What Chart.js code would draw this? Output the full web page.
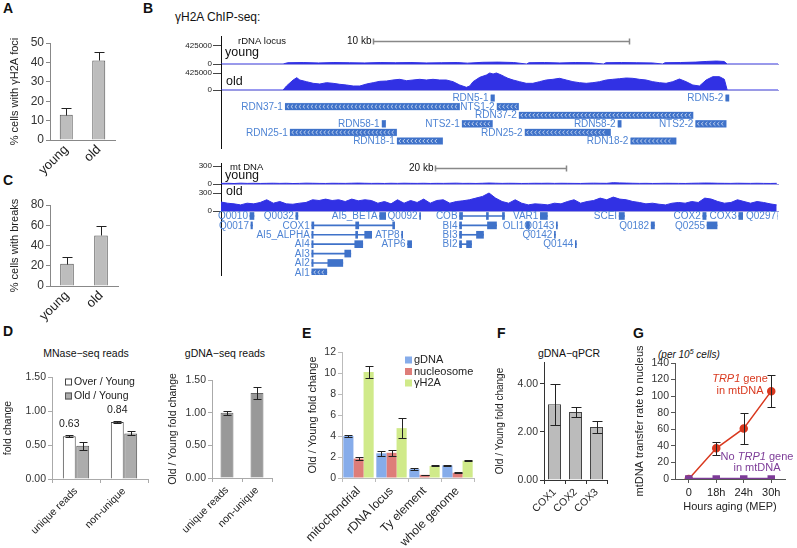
<!DOCTYPE html>
<html>
<head>
<meta charset="utf-8">
<script src="https://cdn.jsdelivr.net/npm/chart.js@4/dist/chart.umd.min.js"></script>
<style>
body { margin: 0; background: #fff; width: 797px; height: 548px; position: relative; overflow: hidden;
       font-family: "Liberation Sans", Arial, sans-serif; }
canvas { position: absolute; }
.t { position: absolute; white-space: nowrap; color: #111; }
.L { font-weight: bold; font-size: 14px; line-height: 14px; }
</style>
</head>
<body>
<div class="t L" style="left:3px;top:1px">A</div>
<div class="t L" style="left:143px;top:1px">B</div>
<div class="t" style="left:175px;top:10px;font-size:12px;line-height:14px">γH2A ChIP-seq:</div>
<div class="t L" style="left:3px;top:173px">C</div>
<div class="t L" style="left:3px;top:324px">D</div>
<div class="t L" style="left:302px;top:326px">E</div>
<div class="t L" style="left:497px;top:326px">F</div>
<div class="t L" style="left:633px;top:326px">G</div>
<div class="t" style="left:36px;width:100px;text-align:center;top:347px;font-size:10.5px;line-height:12px">MNase−seq reads</div>
<div class="t" style="left:175px;width:100px;text-align:center;top:347px;font-size:10.5px;line-height:12px">gDNA−seq reads</div>
<div class="t" style="left:519px;width:100px;text-align:center;top:347px;font-size:10.5px;line-height:12px">gDNA−qPCR</div>
<div class="t" style="left:658px;top:346px;font-size:10px;line-height:12px;font-style:italic">(per 10<sup style="font-size:7px">5</sup> cells)</div>
<script>
// ---- panel A / C ----
const ageGroups = ['young', 'old'];
const fociPct = [13, 41];
const fociErr = [3.5, 4.5];
const breakPct = [22, 50];
const breakErr = [7, 9];

// ---- panel D ----
const readTypes = ['unique reads', 'non-unique'];
const overYoung = [0.63, 0.84];
const overYoungErr = [0.01, 0.015];
const oldYoung = [0.49, 0.67];
const oldYoungErr = [0.06, 0.03];
const gdnaSeq = [1.00, 1.30];
const gdnaSeqErr = [0.03, 0.09];

// ---- panel E ----
const regions = ['mitochondrial', 'rDNA locus', 'Ty element', 'whole genome'];
const eGdna = [4.0, 2.35, 0.85, 1.2];
const eGdnaErr = [0.05, 0.25, 0.1, 0.03];
const eNuc = [1.85, 2.4, 0.3, 0.5];
const eNucErr = [0.12, 0.3, 0.03, 0.05];
const eH2a = [10.1, 4.75, 1.15, 1.65];
const eH2aErr = [0.6, 0.95, 0.05, 0.03];

// ---- panel F ----
const coxGenes = ['COX1', 'COX2', 'COX3'];
const qpcr = [3.15, 2.82, 2.2];
const qpcrErr = [0.85, 0.22, 0.25];

// ---- panel G ----
const hours = ['0', '18h', '24h', '30h'];
const trp1 = [0, 37, 61, 106];
const trp1Err = [0, 8, 19, 19];
const noTrp1 = [0, 0, 0, 0];

// ---- panel B: rDNA coverage (kb, reads) ----
const rdnaPos = [0, 2.42, 2.55, 2.81, 2.95, 3.07, 3.33, 3.59, 3.85, 4.11, 4.37, 4.63, 4.89, 5.15, 5.41, 5.67, 5.93, 6.19, 6.45, 6.70,
  6.96, 7.23, 7.48, 7.74, 8.00, 8.26, 8.52, 8.78, 9.04, 9.30, 9.56, 9.69, 9.82, 10.08, 10.34, 10.47, 10.60, 10.73, 10.92, 11.05,
  11.18, 11.38, 11.63, 11.89, 12.15, 12.41, 12.67, 12.93, 13.19, 13.45, 13.71, 13.97, 14.23, 14.49, 14.75, 15.01, 15.26, 15.53, 15.79, 16.04,
  16.30, 16.56, 16.82, 17.08, 17.34, 17.60, 17.86, 18.12, 18.38, 18.64, 18.90, 19.16, 19.42, 19.61, 19.72, 21.7];
const rdnaOld = [0, 0, 100000, 250000, 308000, 250000, 208000, 167000, 150000, 183000, 167000, 142000, 125000, 100000, 100000, 150000, 183000, 217000, 225000, 250000,
  267000, 233000, 250000, 267000, 250000, 267000, 250000, 250000, 208000, 125000, 67000, 100000, 208000, 317000, 375000, 425000, 400000, 425000, 375000, 333000,
  292000, 250000, 208000, 167000, 167000, 208000, 250000, 267000, 292000, 250000, 208000, 183000, 167000, 183000, 208000, 250000, 267000, 283000, 300000, 292000,
  267000, 250000, 208000, 183000, 167000, 208000, 275000, 208000, 125000, 100000, 250000, 333000, 333000, 267000, 0, 0];
const rdnaYoungPos = [0, 2.42, 2.6, 3.2, 3.8, 4.4, 5.0, 5.6, 6.2, 6.8, 7.4, 8.0, 8.6, 9.2, 9.6, 10.2, 10.8, 11.4, 11.9, 12.0,
  12.6, 13.2, 13.8, 14.4, 14.9, 15.0, 15.6, 16.2, 16.8, 17.2, 17.3, 17.9, 18.5, 18.9, 19.3, 19.6, 19.72, 21.7];
const rdnaYoung = [0, 0, 30000, 35000, 25000, 35000, 30000, 25000, 35000, 30000, 35000, 25000, 30000, 35000, 20000, 40000, 45000, 35000, 0, 30000,
  35000, 25000, 35000, 30000, 0, 30000, 35000, 30000, 25000, 0, 30000, 35000, 45000, 60000, 70000, 60000, 0, 0];

// ---- panel B: mtDNA coverage per 1 kb bin (reads) ----
const mtOld = [150, 130, 119, 102, 130, 119, 142, 187, 130, 158, 119, 113, 130, 142, 187, 175, 198, 175, 187, 158,
  198, 170, 187, 175, 130, 158, 119, 187, 130, 175, 142, 198, 130, 175, 187, 130, 158, 170, 187, 215,
  243, 300, 215, 158, 130, 187, 130, 102, 119, 113, 102, 130, 119, 158, 187, 130, 158, 175, 215, 187,
  232, 198, 187, 158, 142, 119, 130, 113, 102, 130, 142, 130, 158, 142, 215, 198, 158, 130, 142, 187,
  158, 130, 158, 142, 119, 102];
const mtYoung = [10, 12, 8, 14, 10, 12, 9, 11, 13, 10, 12, 8, 10, 14, 12, 10, 9, 12, 11, 10,
  13, 15, 12, 10, 11, 9, 12, 10, 13, 11, 10, 12, 9, 11, 10, 12, 14, 10, 11, 9,
  12, 16, 13, 10, 12, 11, 9, 10, 12, 11, 13, 10, 12, 11, 10, 9, 12, 14, 12, 11,
  22, 18, 15, 12, 10, 11, 9, 10, 12, 11, 10, 9, 12, 14, 16, 15, 12, 11, 10, 13,
  11, 10, 12, 10, 9, 11];

// ---- panel B: rDNA annotation (kb) ----
const rdnaGenes = ['RDN5-1', 'RDN5-2', 'RDN37-1', 'NTS1-2', 'RDN37-2', 'RDN58-1', 'NTS2-1', 'RDN58-2', 'NTS2-2', 'RDN25-1', 'RDN25-2', 'RDN18-1', 'RDN18-2'];
const rdnaGeneStart = [10.50, 19.65, 2.49, 10.74, 11.60, 6.26, 9.38, 15.45, 18.48, 2.68, 11.83, 6.85, 15.95];
const rdnaGeneEnd = [10.66, 19.80, 9.30, 11.60, 18.40, 6.42, 10.58, 15.60, 19.69, 6.85, 15.18, 8.64, 17.74];
const rdnaGeneRow = [1, 1, 2, 2, 3, 4, 4, 4, 4, 5, 5, 6, 6];
const rdnaGeneStrand = [0, 0, 1, 1, 1, 0, 1, 0, 1, 1, 1, 1, 1];

// ---- panel B: mtDNA annotation (kb) ----
const mtGenes = ['Q0010', 'Q0032', 'AI5_BETA', 'Q0092', 'COB', 'VAR1', 'SCEI', 'COX2', 'COX3', 'Q0297',
  'Q0017', 'COX1', 'BI4', 'OLI1', 'Q0143', 'Q0182', 'Q0255',
  'AI5_ALPHA', 'ATP8', 'BI3', 'Q0142',
  'AI4', 'ATP6', 'BI2', 'Q0144',
  'AI3', 'AI2', 'AI1'];
const mtGeneStart = [4.43, 11.45, 24.27, 30.38, 36.49, 48.85, 60.9, 73.7, 79.2, 85.2,
  4.58, 13.89, 36.49, 46.72, 51.3, 65.8, 74.35,
  13.89, 27.63, 36.49, 51.0,
  13.89, 28.55, 36.49, 54.2,
  13.89, 13.89, 13.89];
const mtGeneEnd = [5.04, 11.76, 25.19, 30.53, 43.36, 49.92, 61.7, 74.2, 79.8, 85.3,
  4.81, 26.56, 42.14, 47.18, 51.45, 66.3, 75.88,
  23.05, 27.79, 40.15, 51.15,
  21.68, 29.16, 38.32, 54.35,
  19.85, 18.63, 16.18];
const mtGeneRow = [1, 1, 1, 1, 1, 1, 1, 1, 1, 1, 2, 2, 2, 2, 2, 2, 2, 3, 3, 3, 3, 4, 4, 4, 4, 5, 6, 7];
const mtExonStart = [4.43, 11.45, 24.27, 30.38, 36.49, 40.6, 43.05, 48.85, 60.9, 73.7, 79.2, 85.2,
  4.58, 13.89, 20.6, 26.26, 36.49, 40.76, 46.72, 51.3, 65.8, 74.35,
  13.89, 20.6, 21.98, 27.63, 36.49, 39.08, 51.0,
  13.89, 20.46, 28.55, 36.49, 37.56, 54.2,
  13.89, 18.93, 13.89, 16.34, 13.89];
const mtExonEnd = [5.04, 11.76, 25.19, 30.53, 36.95, 40.9, 43.36, 49.92, 61.7, 74.2, 79.8, 85.3,
  4.81, 14.2, 21.07, 26.56, 36.8, 42.14, 47.18, 51.45, 66.3, 75.88,
  14.1, 20.9, 23.05, 27.79, 36.8, 40.15, 51.15,
  14.1, 21.68, 29.16, 36.8, 38.32, 54.35,
  14.1, 19.85, 14.1, 18.63, 16.18];
const mtExonRow = [1, 1, 1, 1, 1, 1, 1, 1, 1, 1, 1, 1,
  2, 2, 2, 2, 2, 2, 2, 2, 2, 2,
  3, 3, 3, 3, 3, 3, 3,
  4, 4, 4, 4, 4, 4,
  5, 5, 6, 6, 7];

const FONT = '"Liberation Sans", Arial, sans-serif';
Chart.defaults.font.family = FONT;
Chart.defaults.animation = false;
Chart.defaults.responsive = false;
Chart.defaults.maintainAspectRatio = false;
Chart.defaults.devicePixelRatio = 1;
Chart.defaults.plugins.legend.display = false;
Chart.defaults.plugins.tooltip.enabled = false;
Chart.defaults.color = '#222';

// error bars read from dataset.err
Chart.register({
  id: 'errorBars',
  afterDatasetsDraw(chart) {
    const ctx = chart.ctx;
    chart.data.datasets.forEach((ds, di) => {
      if (!ds.err) return;
      const meta = chart.getDatasetMeta(di);
      const ys = chart.scales[meta.yAxisID];
      ctx.save();
      ctx.strokeStyle = ds.errColor || '#222';
      ctx.lineWidth = 1;
      meta.data.forEach((el, i) => {
        const e = ds.err[i];
        if (!e) return;
        const v = ds.data[i];
        const x = Math.round(el.x) + 0.5;
        const yt = Math.round(ys.getPixelForValue(v + e)) + 0.5;
        const yb = Math.round(ys.getPixelForValue(ds.errUp ? v : v - e)) + 0.5;
        const w = (ds.cap || 8) / 2;
        ctx.beginPath();
        ctx.moveTo(x, yt); ctx.lineTo(x, yb);
        ctx.moveTo(x - w, yt); ctx.lineTo(x + w, yt);
        if (!ds.errUp) { ctx.moveTo(x - w, yb); ctx.lineTo(x + w, yb); }
        ctx.stroke();
      });
      ctx.restore();
    });
  }
});

// strand chevrons on annotation boxes
Chart.register({
  id: 'chevrons',
  afterDatasetsDraw(chart) {
    const ctx = chart.ctx;
    chart.data.datasets.forEach((ds, di) => {
      if (!ds.hatch) return;
      chart.getDatasetMeta(di).data.forEach((el, i) => {
        if (!ds.hatch[i]) return;
        const x0 = Math.min(el.x, el.base) + 2, x1 = Math.max(el.x, el.base) - 2;
        ctx.save();
        ctx.strokeStyle = 'rgba(255,255,255,0.85)';
        ctx.lineWidth = 0.8;
        ctx.beginPath();
        for (let x = x0; x + 2 <= x1; x += 4) {
          ctx.moveTo(x + 2, el.y - 1.8); ctx.lineTo(x, el.y); ctx.lineTo(x + 2, el.y + 1.8);
        }
        ctx.stroke();
        ctx.restore();
      });
    });
  }
});

function mk(left, top, w, h) {
  const c = document.createElement('canvas');
  c.width = w; c.height = h;
  c.style.left = left + 'px'; c.style.top = top + 'px';
  c.style.width = w + 'px'; c.style.height = h + 'px';
  document.body.appendChild(c);
  return c;
}

function yAxis(o) {
  return {
    min: o.min, max: o.max,
    afterBuildTicks: o.keep ? (s => { s.ticks = s.ticks.filter(t => o.keep(t.value)); }) : undefined,
    ticks: { stepSize: o.step, font: { size: o.fs || 11 }, color: '#333', padding: 2, callback: o.fmt || (v => v) },
    grid: { drawOnChartArea: false, tickLength: 4, color: o.gc || '#888' },
    border: { color: o.bc || '#888' },
    title: { display: true, text: o.title, font: { size: o.tfs || 11 }, color: '#222', padding: { top: o.tp, bottom: 0 } },
    afterFit: s => { s.width = o.w; }
  };
}

function xCat(o) {
  return {
    offset: true,
    ticks: { font: { size: o.fs || 12 }, color: '#222', minRotation: o.rot, maxRotation: o.rot, autoSkip: false, padding: o.pad || 2 },
    grid: { display: !!o.ticks, drawOnChartArea: false, tickLength: o.ticks ? 4 : 0, color: o.gc || '#888', offset: o.gridOffset !== false },
    border: { color: o.bc || '#888' },
    title: o.title ? { display: true, text: o.title, font: { size: 11 }, color: '#222', padding: { top: 0, bottom: 0 } } : undefined,
    afterFit: s => { s.height = o.h; }
  };
}

function boxLegend(dx, dy, step, fs) {
  return {
    id: 'boxLegend',
    afterDraw(chart) {
      const { ctx, chartArea } = chart;
      ctx.save();
      ctx.font = fs + 'px ' + FONT;
      ctx.textBaseline = 'middle';
      chart.data.datasets.forEach((ds, i) => {
        const x = chartArea.left + dx, y = chartArea.top + dy + i * step;
        ctx.fillStyle = ds.backgroundColor;
        ctx.fillRect(x, y - 3.5, 7, 7);
        if (ds.borderWidth) { ctx.strokeStyle = ds.borderColor; ctx.lineWidth = 1; ctx.strokeRect(x + 0.5, y - 3, 6, 6); }
        ctx.fillStyle = '#222';
        ctx.fillText(ds.label, x + 9, y);
      });
      ctx.restore();
    }
  };
}

// ---------- A ----------
new Chart(mk(0, 0, 125, 190), {
  type: 'bar',
  data: { labels: ageGroups, datasets: [{ data: fociPct, err: fociErr, errUp: true, cap: 10,
    backgroundColor: '#bdbdbd', borderColor: '#555', borderWidth: 1, barPercentage: 0.4, categoryPercentage: 1 }] },
  options: {
    layout: { padding: { top: 43, right: 10, bottom: 0, left: 0 } },
    scales: {
      x: xCat({ rot: 45, h: 50, fs: 13 }),
      y: yAxis({ min: 0, max: 50, step: 10, w: 50, title: '% cells with γH2A foci', tp: 8, fs: 12 })
    }
  }
});

// ---------- C ----------
new Chart(mk(0, 170, 125, 180), {
  type: 'bar',
  data: { labels: ageGroups, datasets: [{ data: breakPct, err: breakErr, errUp: true, cap: 10,
    backgroundColor: '#bdbdbd', borderColor: '#555', borderWidth: 1, barPercentage: 0.4, categoryPercentage: 1 }] },
  options: {
    layout: { padding: { top: 35, right: 7, bottom: 0, left: 0 } },
    scales: {
      x: xCat({ rot: 45, h: 64, fs: 13 }),
      y: yAxis({ min: 0, max: 80, step: 20, w: 50, title: '% cells with breaks', tp: 8, fs: 12 })
    }
  }
});

// ---------- D left ----------
new Chart(mk(0, 340, 160, 208), {
  type: 'bar',
  data: { labels: readTypes, datasets: [
    { label: 'Over / Young', data: overYoung, err: overYoungErr, cap: 8, backgroundColor: '#ffffff', borderColor: '#444', borderWidth: 1, barPercentage: 0.96, categoryPercentage: 0.56 },
    { label: 'Old / Young', data: oldYoung, err: oldYoungErr, cap: 8, backgroundColor: '#acacac', borderColor: '#555', borderWidth: 1, barPercentage: 0.96, categoryPercentage: 0.56 }
  ] },
  options: {
    layout: { padding: { top: 37, right: 12, bottom: 0, left: 0 } },
    scales: {
      x: xCat({ rot: 45, h: 69, fs: 10.5, ticks: true, gc: '#aaa', bc: '#aaa' }),
      y: yAxis({ min: 0, max: 1.5, step: 0.5, w: 52, title: 'fold change', tp: 2, fs: 10.5, tfs: 10.5, gc: '#aaa', bc: '#aaa', fmt: v => v.toFixed(2) })
    }
  },
  plugins: [boxLegend(13, 5, 14, 10.5), {
    id: 'valueLabels',
    afterDatasetsDraw(chart) {
      const ctx = chart.ctx;
      const meta = chart.getDatasetMeta(0);
      ctx.save();
      ctx.font = '10.5px ' + FONT;
      ctx.fillStyle = '#222';
      ctx.textAlign = 'center';
      ctx.textBaseline = 'middle';
      meta.data.forEach((el, i) => ctx.fillText(overYoung[i].toFixed(2), el.x, el.y - 12));
      ctx.restore();
    }
  }]
});

// ---------- D right ----------
new Chart(mk(160, 340, 130, 208), {
  type: 'bar',
  data: { labels: readTypes, datasets: [{ data: gdnaSeq, err: gdnaSeqErr, cap: 8,
    backgroundColor: '#999999', borderColor: '#666', borderWidth: 1, barPercentage: 0.43, categoryPercentage: 1 }] },
  options: {
    layout: { padding: { top: 40, right: 18, bottom: 0, left: 0 } },
    scales: {
      x: xCat({ rot: 45, h: 70, fs: 10.5, ticks: true, gc: '#aaa', bc: '#aaa' }),
      y: yAxis({ min: 0, max: 1.5, step: 0.5, w: 52, title: 'Old / Young fold change', tp: 7, fs: 10.5, tfs: 10.5, gc: '#aaa', bc: '#aaa', fmt: v => v.toFixed(2) })
    }
  }
});

// ---------- E ----------
new Chart(mk(290, 340, 186, 208), {
  type: 'bar',
  data: { labels: regions, datasets: [
    { label: 'gDNA', data: eGdna, err: eGdnaErr, cap: 8, backgroundColor: '#86acea', borderWidth: 0, barPercentage: 1, categoryPercentage: 0.92 },
    { label: 'nucleosome', data: eNuc, err: eNucErr, cap: 8, backgroundColor: '#de7d79', borderWidth: 0, barPercentage: 1, categoryPercentage: 0.92 },
    { label: 'γH2A', data: eH2a, err: eH2aErr, cap: 8, backgroundColor: '#d0ea8a', borderWidth: 0, barPercentage: 1, categoryPercentage: 0.92 }
  ] },
  options: {
    layout: { padding: { top: 12, right: 2, bottom: 0, left: 0 } },
    scales: {
      x: xCat({ rot: 45, h: 70, fs: 12, ticks: true, gc: '#bbb', bc: '#bbb' }),
      y: yAxis({ min: 0, max: 12, step: 2, w: 52, title: 'Old / Young fold change', tp: 16, fs: 10.5, tfs: 11, gc: '#bbb', bc: '#bbb' })
    }
  },
  plugins: [boxLegend(63, 8, 11.5, 11)]
});

// ---------- F ----------
new Chart(mk(490, 340, 125, 208), {
  type: 'bar',
  data: { labels: coxGenes, datasets: [{ data: qpcr, err: qpcrErr, cap: 10,
    backgroundColor: '#bbbbbb', borderColor: '#444', borderWidth: 1, barPercentage: 0.62, categoryPercentage: 1 }] },
  options: {
    layout: { padding: { top: 22, right: 8, bottom: 0, left: 0 } },
    scales: {
      x: xCat({ rot: 45, h: 68, fs: 10.5, ticks: true, gc: '#333', bc: '#333' }),
      y: yAxis({ min: 0, max: 4.9, step: 2, w: 54, title: 'Old / Young fold change', tp: 4, fs: 10.5, tfs: 10, gc: '#333', bc: '#333',
        keep: v => v % 2 === 0, fmt: v => v.toFixed(2) })
    }
  }
});

// ---------- G ----------
function richText(ctx, parts, cx, cy, color) {
  ctx.fillStyle = color;
  const fonts = parts.map(p => (p.it ? 'italic ' : '') + '11px ' + FONT);
  let total = 0;
  parts.forEach((p, i) => { ctx.font = fonts[i]; total += ctx.measureText(p.t).width; });
  let x = cx - total / 2;
  parts.forEach((p, i) => { ctx.font = fonts[i]; ctx.fillText(p.t, x, cy); x += ctx.measureText(p.t).width; });
}
new Chart(mk(625, 340, 172, 208), {
  type: 'line',
  data: { labels: hours, datasets: [
    { data: noTrp1, borderColor: '#7d3c98', backgroundColor: '#7d3c98', borderWidth: 2.5, pointStyle: 'rect', pointRadius: 3.5, tension: 0 },
    { data: trp1, err: trp1Err, cap: 8, borderColor: '#d9391f', backgroundColor: '#d9391f', borderWidth: 1.5, pointStyle: 'circle', pointRadius: 3.5, tension: 0 }
  ] },
  options: {
    layout: { padding: { top: 23, right: 12, bottom: 34, left: 0 } },
    scales: {
      x: xCat({ rot: 0, h: 35, fs: 11, pad: 3, ticks: true, gc: '#555', bc: '#555', gridOffset: false, title: 'Hours aging (MEP)' }),
      y: yAxis({ min: 0, max: 140, step: 20, w: 50, title: 'mtDNA transfer rate to nucleus', tp: 8, fs: 10.5, tfs: 11, gc: '#555', bc: '#555' })
    }
  },
  plugins: [{
    id: 'gNotes',
    afterDraw(chart) {
      const { ctx, chartArea: a } = chart;
      ctx.save();
      ctx.textBaseline = 'middle';
      richText(ctx, [{ t: 'TRP1', it: true }, { t: ' gene' }], a.left + 65, a.top + 16, '#d9391f');
      richText(ctx, [{ t: 'in mtDNA' }], a.left + 65, a.top + 28, '#d9391f');
      richText(ctx, [{ t: 'No ' }, { t: 'TRP1', it: true }, { t: ' gene' }], a.left + 82, a.top + 94, '#7d3c98');
      richText(ctx, [{ t: 'in mtDNA' }], a.left + 82, a.top + 105, '#7d3c98');
      ctx.restore();
    }
  }]
});

// ---------- B: browser tracks ----------
const TRACK_BLUE = '#3131e4';
function notesPlugin(items, bar) {
  return {
    id: 'trackNotes',
    afterDraw(chart) {
      const { ctx, chartArea: a, scales } = chart;
      ctx.save();
      ctx.textBaseline = 'middle';
      items.forEach(it => {
        ctx.font = it.size + 'px ' + FONT;
        ctx.fillStyle = '#111';
        ctx.textAlign = it.align || 'left';
        ctx.fillText(it.text, a.left + it.x, a.top + it.y);
      });
      if (bar) {
        const x0 = Math.round(scales.x.getPixelForValue(bar.from)) + 0.5;
        const x1 = Math.round(scales.x.getPixelForValue(bar.to)) + 0.5;
        const y = Math.round(a.top + bar.dy) + 0.5;
        ctx.strokeStyle = '#888';
        ctx.lineWidth = 1.5;
        ctx.beginPath();
        ctx.moveTo(x0, y); ctx.lineTo(x1, y);
        ctx.moveTo(x0, y - 3); ctx.lineTo(x0, y + 3);
        ctx.moveTo(x1, y - 3); ctx.lineTo(x1, y + 3);
        ctx.stroke();
        ctx.font = '10px ' + FONT;
        ctx.fillStyle = '#111';
        ctx.textAlign = 'right';
        ctx.fillText(bar.label, x0 - 2, y);
      }
      ctx.restore();
    }
  };
}

function trackChart(cv, pos, vals, xMax, yMax, yTick, plugin) {
  return new Chart(cv, {
    type: 'line',
    data: { datasets: [{ data: pos.map((p, i) => ({ x: p, y: vals[i] })), fill: 'origin',
      backgroundColor: TRACK_BLUE, borderColor: TRACK_BLUE, borderWidth: 1, pointRadius: 0, tension: 0 }] },
    options: {
      layout: { padding: { top: 6, bottom: 6, left: 0, right: 19 } },
      scales: {
        x: { type: 'linear', min: 0, max: xMax, ticks: { display: false }, grid: { display: false, drawTicks: false },
          border: { color: '#9a9ae2' }, afterFit: s => { s.height = 0; } },
        y: { min: 0, max: yMax, afterBuildTicks: s => { s.ticks = [{ value: 0 }, { value: yTick }]; },
          ticks: { font: { size: 8 }, color: '#222', padding: 1, callback: v => String(v) },
          grid: { drawOnChartArea: false, tickLength: 8, color: '#444' }, border: { color: '#111' },
          afterFit: s => { s.width = 71; } }
      }
    },
    plugins: plugin ? [plugin] : []
  });
}

function geneChart(cv, xMax, yMin, yMax, datasets, names, starts, rows) {
  return new Chart(cv, {
    type: 'bar',
    data: { datasets },
    options: {
      indexAxis: 'y',
      layout: { padding: { top: 6, bottom: 6, left: 0, right: 19 } },
      scales: {
        x: { type: 'linear', min: 0, max: xMax, display: false },
        y: { type: 'linear', min: yMin, max: yMax, reverse: true, offset: false, ticks: { display: false },
          grid: { display: false }, border: { color: '#111' }, afterFit: s => { s.width = 71; } }
      }
    },
    plugins: [{
      id: 'geneLabels',
      afterDatasetsDraw(chart) {
        const { ctx, scales: { x, y } } = chart;
        ctx.save();
        ctx.font = '10px ' + FONT;
        ctx.fillStyle = '#4f84d4';
        ctx.textAlign = 'right';
        ctx.textBaseline = 'middle';
        names.forEach((n, i) => ctx.fillText(n, x.getPixelForValue(starts[i]) - 2, y.getPixelForValue(rows[i]) + 0.5));
        ctx.restore();
      }
    }]
  });
}

const GENE_BLUE = '#3f72c9';
const RDNA_KB = 21.7, MT_KB = 85.2;

// rDNA locus
trackChart(mk(150, 30, 647, 40), rdnaYoungPos, rdnaYoung, RDNA_KB, 661000, 425000,
  notesPlugin([{ text: 'rDNA locus', x: 17, y: 5, size: 9.5 }, { text: 'young', x: 4, y: 17, size: 12.5 }],
    { from: 5.91, to: 15.91, dy: 5, label: '10 kb' }));
trackChart(mk(150, 58, 647, 38), rdnaPos, rdnaOld, RDNA_KB, 650000, 425000,
  notesPlugin([{ text: 'old', x: 5, y: 18, size: 12.5 }]));
geneChart(mk(150, 84, 647, 70), RDNA_KB, 0.07, 6.81, [{
  data: rdnaGeneStart.map((s, i) => ({ x: [s, rdnaGeneEnd[i]], y: rdnaGeneRow[i] })),
  hatch: rdnaGeneStrand,
  backgroundColor: GENE_BLUE, borderColor: '#7fa3e0', borderWidth: 0.5, barThickness: 7, grouped: false
}], rdnaGenes, rdnaGeneStart, rdnaGeneRow);

// mtDNA
trackChart(mk(150, 157, 647, 33), mtYoung.map((v, i) => i), mtYoung, MT_KB, 350, 300,
  notesPlugin([{ text: 'mt DNA', x: 9, y: 4, size: 9.5 }, { text: 'young', x: 4, y: 13, size: 12.5 }],
    { from: 32.8, to: 52.8, dy: 5, label: '20 kb' }));
trackChart(mk(150, 178, 647, 39), mtOld.map((v, i) => i), mtOld, MT_KB, 450, 300,
  notesPlugin([{ text: 'old', x: 5, y: 8, size: 12.5 }]));
geneChart(mk(150, 205, 647, 76), MT_KB, 0.47, 7.28, [
  { data: mtExonStart.map((s, i) => ({ x: [s, mtExonEnd[i]], y: mtExonRow[i] })),
    hatch: mtExonStart.map((s, i) => (mtExonEnd[i] - s > 2 && mtExonRow[i] === 7) ? 1 : 0),
    backgroundColor: GENE_BLUE, borderWidth: 0, barThickness: 7, grouped: false },
  { data: mtGeneStart.map((s, i) => ({ x: [s, mtGeneEnd[i]], y: mtGeneRow[i] })),
    backgroundColor: GENE_BLUE, borderWidth: 0, barThickness: 1, grouped: false }
], mtGenes, mtGeneStart, mtGeneRow);
</script>
</body>
</html>
